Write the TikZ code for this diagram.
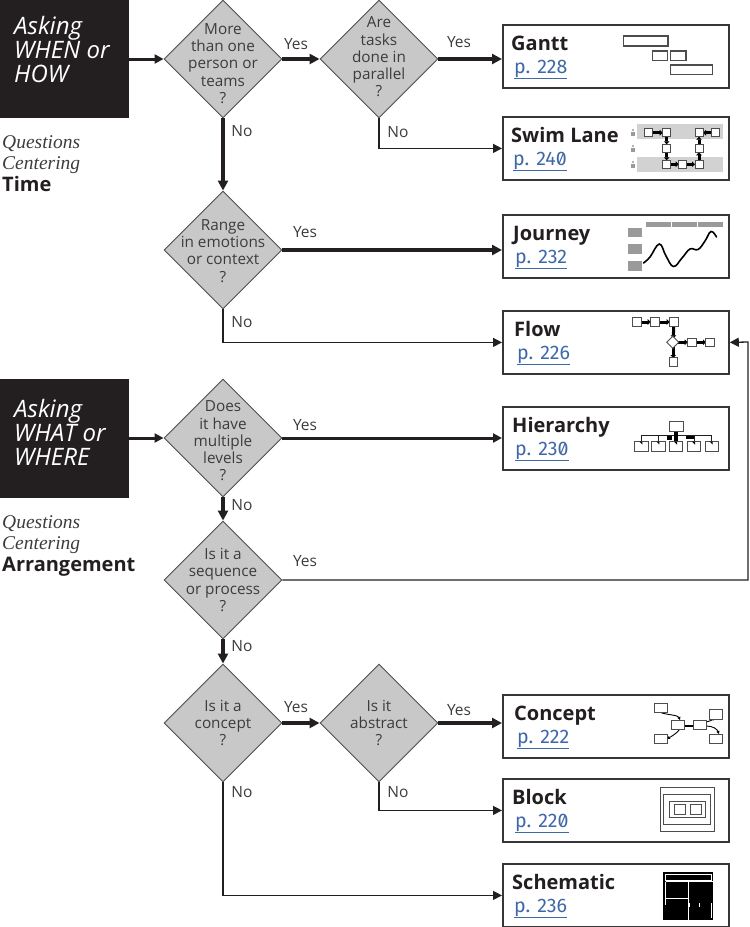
\documentclass[tikz,border=0pt]{standalone}
\usepackage{fontspec}
\setmainfont{Open Sans}
\newfontfamily\serifit{Liberation Serif}
\newfontfamily\pagefont{Fira Sans}[Numbers={SlashedZero,Proportional}]
\usetikzlibrary{positioning,arrows.meta,calc,shapes.geometric}
\definecolor{inkblack}{HTML}{231F20}
\definecolor{decgrey}{HTML}{C8C8C8}
\definecolor{txtgrey}{HTML}{3C3C3C}
\definecolor{linkblue}{HTML}{3F68A8}
\definecolor{iconbar}{HTML}{9A9A9A}
\definecolor{iconband}{HTML}{D2D2D2}
\tikzset{
  fc ask/.style={fill=inkblack, draw=none, text=white, align=left, anchor=north west, minimum width=129pt, inner sep=0pt},
  fc asktext/.style={text=white, font=\fontsize{24}{24}\selectfont\itshape, align=left, anchor=north west, inner sep=0pt},
  fc dec/.style={diamond, aspect=1, draw=inkblack!80, line width=0.9pt, fill=decgrey, minimum width=118pt, minimum height=118pt, inner sep=0pt},
  fc dectext/.style={font=\fontsize{15.3}{17.2}\selectfont, text=txtgrey, align=center, inner sep=0pt},
  fc res/.style={draw=inkblack!90, line width=1.8pt, fill=white, anchor=north west, minimum width=226pt, minimum height=63pt, inner sep=0pt},
  fc title/.style={font=\fontsize{20}{21}\selectfont\bfseries, text=inkblack, anchor=base west, inner sep=0pt},
  fc page/.style={font=\fontsize{19.6}{20}\selectfont\pagefont, text=linkblue, anchor=base west, inner sep=0pt},
  fc branch/.style={font=\fontsize{15.5}{17}\selectfont, text=txtgrey, inner sep=0pt},
  fc side/.style={font=\fontsize{19.5}{21.7}\selectfont\serifit\itshape, text=txtgrey, align=left, anchor=north west, inner sep=0pt},
  fc arr/.style={-{Triangle[length=10pt,width=10pt]}, line width=3.8pt, inkblack},
  fc med/.style={-{Triangle[length=9pt,width=9pt]}, line width=3pt, inkblack},
  fc thin/.style={-{Triangle[length=9pt,width=9pt]}, line width=1.3pt, inkblack},
  ic box/.style={draw=inkblack!80, line width=0.9pt, fill=white},
  ic link/.style={line width=3pt, black, shorten >=4pt, -{Triangle[length=3pt,width=5.5pt]}},
}
\begin{document}
\begin{tikzpicture}[x=1pt, y=-1pt]
  \useasboundingbox (0,0) rectangle (750,927);
  % left headers
  \node[fc ask, minimum height=118pt] (askwhen) at (0,0) {};
  \node[fc asktext] (askwhentxt) at (14,16) {Asking\\WHEN or\\HOW};
  \node[fc ask, minimum height=119pt] (askwhat) at (0,379) {};
  \node[fc asktext] (askwhattxt) at (14,399) {Asking\\WHAT or\\WHERE};
  \node[fc side] (sidetime) at (2,135) {Questions\\Centering\\{\normalfont\fontsize{20}{21.7}\selectfont\bfseries\color{inkblack} Time}};
  \node[fc side] (sidearr) at (2,515) {Questions\\Centering\\{\normalfont\fontsize{20}{21.7}\selectfont\bfseries\color{inkblack} Arrangement}};
  % questions
  \foreach \nm/\x/\y/\ds/\tx in {qone/223/59/4.5/{More\\than one\\person or\\teams\\?}, qtwo/379/59/-2/{Are\\tasks\\done in\\parallel\\?},
      qrange/223/250/1/{Range\\in emotions\\or context\\?}, qlevels/223/438/3/{Does\\it have\\multiple\\levels\\?},
      qseq/223/580/0/{Is it a\\sequence\\or process\\?}, qconcept/223/723/0/{Is it a\\concept\\?}, qabs/379/723/0/{Is it\\abstract\\?}} {
     \node[fc dec, label={[fc dectext, yshift=-\ds pt]center:{\tx}}] (\nm) at (\x,\y) {};
  }
  % result boxes
  \foreach \nm/\yo/\ttl/\tx/\pg/\px in {gantt/24/Gantt/511/228/514, swim/116/Swim Lane/511/240/513, journey/214/Journey/513/232/515,
      flow/310/Flow/514/226/517, hier/406/Hierarchy/512/230/515, concept/694/Concept/514/222/517,
      block/778/Block/512/220/515, schem/863/Schematic/512/236/514} {
     \node[fc res] (\nm) at (502,\yo) {};
     \node[fc title] (\nm title) at (\tx,\yo+26) {\ttl};
     \node[fc page] (\nm page) at (\px,\yo+49) {\underline{p. \pg}};
  }
  % connectors
  \draw[fc med] (askwhen.east |- qone) -- (qone.west);
  \draw[fc arr] (qone.east) -- (qtwo.west);
  \draw[fc arr] (qtwo.east) -- (qtwo -| gantt.west);
  \draw[fc thin] (qtwo.south) |- (swim.west);
  \draw[fc arr] (qone.south) -- (qrange.north);
  \draw[fc arr] (qrange.east) -- (qrange -| journey.west);
  \draw[fc thin] (qrange.south) |- (flow.west);
  \draw[fc med] (askwhat.east |- qlevels) -- (qlevels.west);
  \draw[fc med] (qlevels.east) -- (qlevels -| hier.west);
  \draw[fc arr] (qlevels.south) -- (qseq.north);
  \coordinate (flowin) at (748,342);
  \draw[fc thin] (qseq.east) -| (flowin) -- (flow.east);
  \draw[fc arr] (qseq.south) -- (qconcept.north);
  \draw[fc arr] (qconcept.east) -- (qabs.west);
  \draw[fc arr] (qabs.east) -- (qabs -| concept.west);
  \draw[fc thin] (qabs.south) |- (block.west);
  \draw[fc thin] (qconcept.south) |- (schem.west);
  % yes / no
  \foreach \nm/\x/\y/\tx in {yone/296/44/Yes, ytwo/459/42/Yes, yrange/305/232/Yes, ylevels/305/425/Yes, yseq/305/561/Yes, yconcept/296/707/Yes, yabs/459/710/Yes,
      none/242/131/No, ntwo/398/132/No, nrange/242/322/No, nlevels/242/505/No, nseq/242/646/No, nabs/398/792/No, nconcept/242/792/No} {
     \node[fc branch] (\nm) at (\x,\y) {\tx};
  }
  % gantt icon
  \foreach \xa/\ya/\xb/\yb in {623.5/36/668/46, 652.5/51/667.5/60.5, 670.5/51/686/60.5, 670.5/65/712.5/74.5} {
     \draw[ic box, line width=1.1pt] (\xa,\ya) rectangle (\xb,\yb);
  }
  % swim lane icon
  \fill[iconband] (636.7,124.3) rectangle (722.7,139.3);
  \fill[iconband] (636.7,157.3) rectangle (722.7,171.7);
  \foreach \y in {133,149,165} {
     \fill[iconbar] (633,\y-3) circle (1.2pt);
     \fill[iconbar] (630.8,\y-0.8) rectangle (635.2,\y+3);
  }
  \foreach \xa/\ya/\xb/\yb in {648.3/132.7/666.7/132.7, 666.7/132.7/666.7/148.3, 666.7/148.3/666.7/164.3, 666.7/164.3/682.7/164.3,
      682.7/164.3/699/164.3, 699/164.3/699/148.3, 699/148.3/699/132.7, 715.7/132.7/699/132.7} {
     \draw[ic link] (\xa,\ya) -- (\xb,\yb);
  }
  \foreach \x/\y in {648.3/132.7, 666.7/132.7, 699/132.7, 715.7/132.7, 666.7/148.3, 699/148.3, 666.7/164.3, 682.7/164.3, 699/164.3} {
     \draw[ic box] (\x-4,\y-4) rectangle (\x+4,\y+4);
  }
  % journey icon
  \foreach \xa/\xb in {645.7/671, 672.3/696.7, 698/722.7} { \fill[iconbar] (\xa,221.7) rectangle (\xb,227.3); }
  \foreach \ya/\yb in {227.7/237.3, 244/254, 260.7/270.7} { \fill[iconbar] (628,\ya) rectangle (642.3,\yb); }
  \draw[line width=1.6pt, black, line cap=round] plot[smooth, tension=0.7] coordinates {(643.5,263) (650,257) (659.3,244) (666,256) (673.5,266.5) (682,258) (690,249) (698,249.5) (705,241) (711,231.5) (716.5,237)};
  % flow icon
  \foreach \xa/\ya/\xb/\yb in {636.7/322/654.7/322, 654.7/322/673.7/322, 673.7/322/673.3/342.3, 673/342.3/691.7/342.3, 691.7/342.3/710/342.3, 673.3/342.3/673.3/362} {
     \draw[ic link] (\xa,\ya) -- (\xb,\yb);
  }
  \foreach \x/\y in {636.7/322, 654.7/322, 673.7/322, 691.7/342.3, 710/342.3, 673.3/362} {
     \draw[ic box] (\x-4.3,\y-4.3) rectangle (\x+4.3,\y+4.3);
  }
  \draw[ic box] (672.8,336.3) -- (678.8,342.3) -- (672.8,348.3) -- (666.8,342.3) -- cycle;
  % hierarchy icon
  \draw[line width=0.8pt, inkblack] (641.3,441) -- (641.3,435.7) -- (711.7,435.7) -- (711.7,441);
  \draw[line width=0.8pt, inkblack] (658.3,435.7) -- (658.3,441) (694,435.7) -- (694,441);
  \fill[black] (667,435.5) rectangle (672,440);
  \fill[black] (674,431) rectangle (678,440.5);
  \fill[black] (686,435.5) rectangle (694,438.5);
  \draw[ic box] (669,421) rectangle (683.3,431);
  \foreach \x in {641.3,658.3,676,694,711.7} {
     \draw[ic box] (\x-6.7,441.5) rectangle (\x+6.7,451.7);
     \fill[black] (\x-2,441.5) -- (\x+1,441.5) -- (\x+1,444.5) -- cycle;
  }
  % concept icon
  \draw[line width=0.9pt, black, -{Triangle[length=3pt,width=3pt]}] (661,712.7) .. controls (668,715) and (678,715) .. (680,720);
  \draw[line width=0.9pt, black, -{Triangle[length=3pt,width=3pt]}] (680,729) .. controls (676,734) and (672,736) .. (667,739);
  \draw[line width=0.9pt, black, -{Triangle[length=3pt,width=3pt]}] (706,722) .. controls (711,721) and (714,719) .. (716,719);
  \draw[line width=0.9pt, black, -{Triangle[length=3pt,width=3pt]}] (706,726) .. controls (713,726) and (717,729) .. (719,734);
  \draw[line width=2.4pt, black] (684,726) -- (693,726);
  \foreach \xa/\ya/\xb/\yb in {654.3/703.3/667.7/712.7, 654.3/734/667.7/743.3, 671/720/684/729.3, 693.3/720/706/729.3, 709.3/709/722.7/719, 709.3/734/722.7/743.3} {
     \draw[ic box] (\xa,\ya) rectangle (\xb,\yb);
  }
  % block icon
  \foreach \xa/\ya/\xb/\yb in {660.3/787.7/714/831.3, 663.7/794.7/710.3/824.3, 669.7/801.7/705/817.7, 674.3/804.7/685.3/814.3, 690/804.7/701/814.3} {
     \draw[ic box] (\xa,\ya) rectangle (\xb,\yb);
  }
  % schematic icon
  \fill[black] (663.3,871.7) rectangle (713.3,920);
  \draw[white, line width=0.9pt] (665.5,874) rectangle (711.5,880.8);
  \draw[white, line width=1pt] (665.5,881.7) -- (713.3,881.7) (688.3,881.7) -- (688.3,920) (665.5,898.3) -- (688.3,898.3) (665.5,881.7) -- (665.5,905);
  \draw[white, line width=1pt] (699.5,903) -- (699.5,907) (711.5,903) -- (711.5,918) (689,903) -- (689,907);
\end{tikzpicture}
\end{document}
